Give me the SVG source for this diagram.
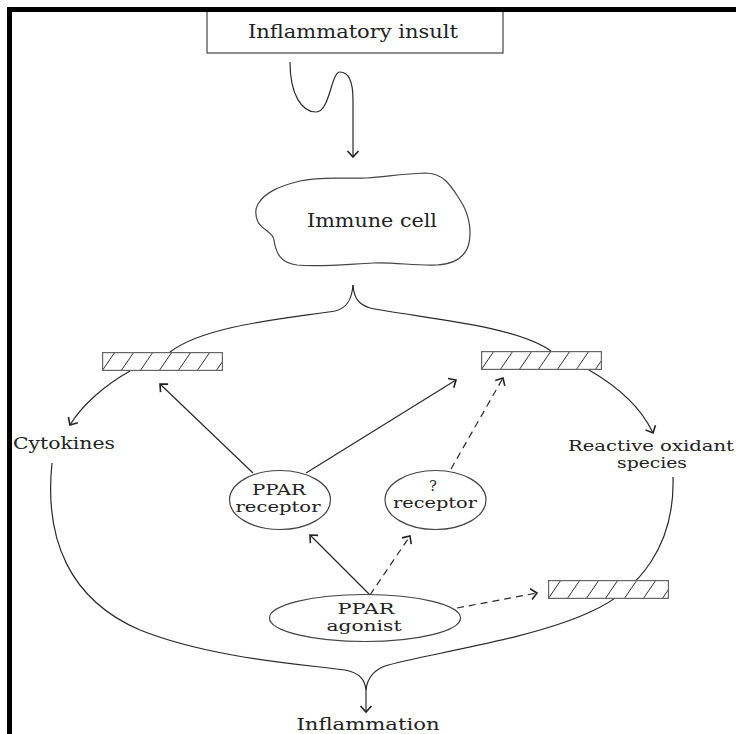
<svg xmlns="http://www.w3.org/2000/svg" width="736" height="734" viewBox="0 0 736 734">
<style>
.t{font-family:"DejaVu Serif","Liberation Serif",serif;fill:#222;}
.ln{fill:none;stroke:#2a2a2a;stroke-width:1.2;}
.ds{stroke-dasharray:7,5;}
.nd{fill:#fff;stroke:#444;stroke-width:1.2;}
</style>
<defs>
<marker id="ah" markerUnits="userSpaceOnUse" markerWidth="20" markerHeight="20" refX="10" refY="10" orient="auto" overflow="visible">
<path d="M4,4.5 L10,10 L4,15.5" fill="none" stroke="#222" stroke-width="1.6"/>
</marker>
<symbol id="hatch" viewBox="0 0 121 19" overflow="hidden">
<rect x="0" y="0" width="121" height="19" fill="#fff"/>
<path d="M0,19 L13,0 M19,19 L32,0 M38,19 L51,0 M57,19 L70,0 M76,19 L89,0 M95,19 L108,0 M114,19 L127,0" stroke="#333" stroke-width="1"/>
<rect x="0.6" y="0.6" width="119.8" height="17.8" fill="none" stroke="#666" stroke-width="1.2"/>
</symbol>
</defs>
<rect width="736" height="734" fill="#fff"/>

<g id="connectors">
<path class="ln" d="M290,62 C290,95 302,112 316,112 C330,112 331,72 340,72 C350,72 353,85 353,100 L353,157" marker-end="url(#ah)"/>
<path class="ln" d="M353,285 C352,298 348,308 335,311 C290,318 205,325 170,352"/>
<path class="ln" d="M353,285 C354,298 358,304 370,308 C420,318 515,325 551,351"/>
<path class="ln" d="M130,371 C105,385 82,405 70,425" marker-end="url(#ah)"/>
<path class="ln" d="M589,370 C615,385 640,405 653,433" marker-end="url(#ah)"/>
<path class="ln" d="M253,473 L160,384" marker-end="url(#ah)"/>
<path class="ln" d="M306,473 L456,380" marker-end="url(#ah)"/>
<path class="ln ds" d="M451,469 L503,378" marker-end="url(#ah)"/>
<path class="ln" d="M370,595 L310,535" marker-end="url(#ah)"/>
<path class="ln ds" d="M370,595 L410,536" marker-end="url(#ah)"/>
<path class="ln ds" d="M457,608 L537,593" marker-end="url(#ah)"/>
<path class="ln" d="M52,463 C44,540 70,600 140,630 C210,658 300,664 345,670 C360,673 365,680 366,690"/>
<path class="ln" d="M673,477 C675,545 640,590 590,612 C530,640 420,655 385,666 C372,671 367,680 366,690"/>
<path class="ln" d="M366,690 L366,712" marker-end="url(#ah)"/>
</g>

<g id="insult">
<rect class="nd" x="207" y="8" width="296" height="45"/>
<text class="t" x="353" y="38" font-size="18" text-anchor="middle" textLength="210" lengthAdjust="spacingAndGlyphs">Inflammatory insult</text>
</g>

<g id="immune-cell">
<path class="nd" d="M258,204 C265,192 280,186 300,181 C320,176 345,179 367,178 C385,177 400,174 425,173 C445,173 452,188 460,200 C468,212 472,228 469,243 C466,256 455,264 437,265 C415,266 395,262 373,263 C350,264 320,267 297,265 C282,263 276,255 274,240 C273,232 262,230 258,222 C255,215 255,209 258,204 Z"/>
<text class="t" x="372" y="227" font-size="18" text-anchor="middle" textLength="130" lengthAdjust="spacingAndGlyphs">Immune cell</text>
</g>

<g id="block-left"><use href="#hatch" x="102" y="352" width="121" height="19"/></g>
<g id="block-right"><use href="#hatch" x="481" y="351" width="121" height="19"/></g>
<g id="block-bottom"><use href="#hatch" x="548" y="580" width="121" height="19"/></g>

<g id="cytokines">
<text class="t" x="13" y="449" font-size="16.5" textLength="102" lengthAdjust="spacingAndGlyphs">Cytokines</text>
</g>

<g id="ros">
<text class="t" x="568" y="451" font-size="14.5" textLength="166" lengthAdjust="spacingAndGlyphs">Reactive oxidant</text>
<text class="t" x="652" y="468" font-size="14.5" text-anchor="middle" textLength="70" lengthAdjust="spacingAndGlyphs">species</text>
</g>

<g id="ppar-receptor">
<ellipse class="nd" cx="280" cy="500" rx="50.5" ry="29.5"/>
<text class="t" x="279" y="495" font-size="14" text-anchor="middle" textLength="54" lengthAdjust="spacingAndGlyphs">PPAR</text>
<text class="t" x="278" y="512" font-size="14" text-anchor="middle" textLength="85" lengthAdjust="spacingAndGlyphs">receptor</text>
</g>

<g id="unknown-receptor">
<ellipse class="nd" cx="435.5" cy="500" rx="50.5" ry="29.5"/>
<text class="t" x="433" y="491" font-size="14" text-anchor="middle">?</text>
<text class="t" x="435" y="508" font-size="14" text-anchor="middle" textLength="84" lengthAdjust="spacingAndGlyphs">receptor</text>
</g>

<g id="ppar-agonist">
<ellipse class="nd" cx="365" cy="618" rx="95.5" ry="23.5"/>
<text class="t" x="366" y="614" font-size="14" text-anchor="middle" textLength="57" lengthAdjust="spacingAndGlyphs">PPAR</text>
<text class="t" x="364" y="631" font-size="14" text-anchor="middle" textLength="75" lengthAdjust="spacingAndGlyphs">agonist</text>
</g>

<g id="inflammation">
<text class="t" x="368" y="730" font-size="17" text-anchor="middle" textLength="143" lengthAdjust="spacingAndGlyphs">Inflammation</text>
</g>

<path id="frame" d="M9.5,734 V9.5 H736" fill="none" stroke="#000" stroke-width="5"/>
</svg>
